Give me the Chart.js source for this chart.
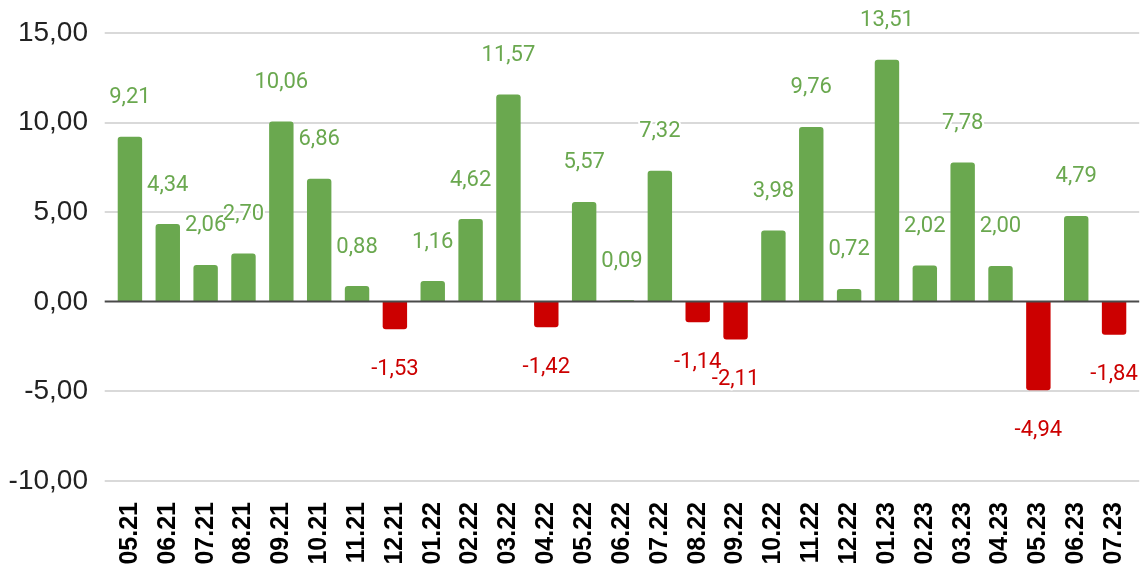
<!DOCTYPE html>
<html>
<head>
<meta charset="utf-8">
<script src="https://cdn.jsdelivr.net/npm/chart.js@4.4.0/dist/chart.umd.min.js"></script>
<style>
html,body{margin:0;padding:0;background:#fff;}
#wrap{width:1142px;height:568px;position:relative;}
</style>
</head>
<body>
<div id="wrap"><canvas id="c" width="1142" height="568"></canvas></div>
<script>
const categories = ["05.21","06.21","07.21","08.21","09.21","10.21","11.21","12.21","01.22","02.22","03.22","04.22","05.22","06.22","07.22","08.22","09.22","10.22","11.22","12.22","01.23","02.23","03.23","04.23","05.23","06.23","07.23"];
const values = [9.21,4.34,2.06,2.70,10.06,6.86,0.88,-1.53,1.16,4.62,11.57,-1.42,5.57,0.09,7.32,-1.14,-2.11,3.98,9.76,0.72,13.51,2.02,7.78,2.00,-4.94,4.79,-1.84];
const yTicks = [-10,-5,0,5,10,15];

const GREEN = '#6aa84f';
const RED = '#cc0000';
const fmt = v => v.toFixed(2).replace('.', ',');

const gridPlugin = {
  id: 'customGrid',
  beforeDatasetsDraw(chart) {
    const {ctx, chartArea, scales} = chart;
    const y = scales.y;
    ctx.save();
    yTicks.forEach(t => {
      const py = Math.round(y.getPixelForValue(t));
      if (t === 0) return;
      ctx.strokeStyle = '#cccccc';
      ctx.lineWidth = 1.5;
      ctx.beginPath();
      ctx.moveTo(chartArea.left - 6.3, py);
      ctx.lineTo(chartArea.right + 6.2, py);
      ctx.stroke();
    });
    ctx.restore();
  },
  afterDatasetsDraw(chart) {
    const {ctx, chartArea, scales} = chart;
    const y = scales.y;
    ctx.save();
    const py = Math.round(y.getPixelForValue(0)) - 0.5;
    ctx.strokeStyle = '#4a4a4a';
    ctx.lineWidth = 2.2;
    ctx.beginPath();
    ctx.moveTo(chartArea.left - 6.3, py);
    ctx.lineTo(chartArea.right + 6.2, py);
    ctx.stroke();
    const meta = chart.getDatasetMeta(0);
    ctx.font = '22px Roboto';
    ctx.textAlign = 'center';
    ctx.textBaseline = 'middle';
    ctx.lineJoin = 'round';
    meta.data.forEach((bar, i) => {
      const v = values[i];
      const ly = v >= 0 ? bar.y - 39 : bar.y + 40;
      const txt = fmt(v);
      ctx.strokeStyle = '#ffffff';
      ctx.lineWidth = 4;
      ctx.strokeText(txt, bar.x, ly);
      ctx.fillStyle = v >= 0 ? GREEN : RED;
      ctx.fillText(txt, bar.x, ly);
    });
    ctx.restore();
  }
};

new Chart(document.getElementById('c'), {
  type: 'bar',
  data: {
    labels: categories,
    datasets: [{
      data: values,
      backgroundColor: values.map(v => v >= 0 ? GREEN : RED),
      borderRadius: 3,
      borderSkipped: 'start',
      categoryPercentage: 1,
      barPercentage: 0.645
    }]
  },
  options: {
    responsive: false,
    animation: false,
    layout: { padding: { top: 33, right: 9, bottom: 0, left: 0 } },
    plugins: { legend: { display: false }, tooltip: { enabled: false } },
    scales: {
      x: {
        offset: true,
        grid: { display: false, drawTicks: false },
        border: { display: false },
        ticks: {
          minRotation: 90, maxRotation: 90,
          padding: 21,
          color: '#000',
          font: { family: 'Liberation Sans', size: 25, weight: 'bold' },
          autoSkip: false
        },
        afterFit(s) { s.height = 87; s.paddingLeft = 0; s.paddingRight = 0; }
      },
      y: {
        min: -10, max: 15,
        afterBuildTicks(s) { s.ticks = yTicks.map(v => ({value: v})); },
        grid: { display: false, drawTicks: false },
        border: { display: false },
        ticks: {
          padding: 23,
          color: '#222',
          font: { family: 'Liberation Sans', size: 28 },
          callback: v => fmt(v)
        },
        afterFit(s) { s.width = 111; s.paddingTop = 0; s.paddingBottom = 0; }
      }
    }
  },
  plugins: [gridPlugin]
});
</script>
</body>
</html>
